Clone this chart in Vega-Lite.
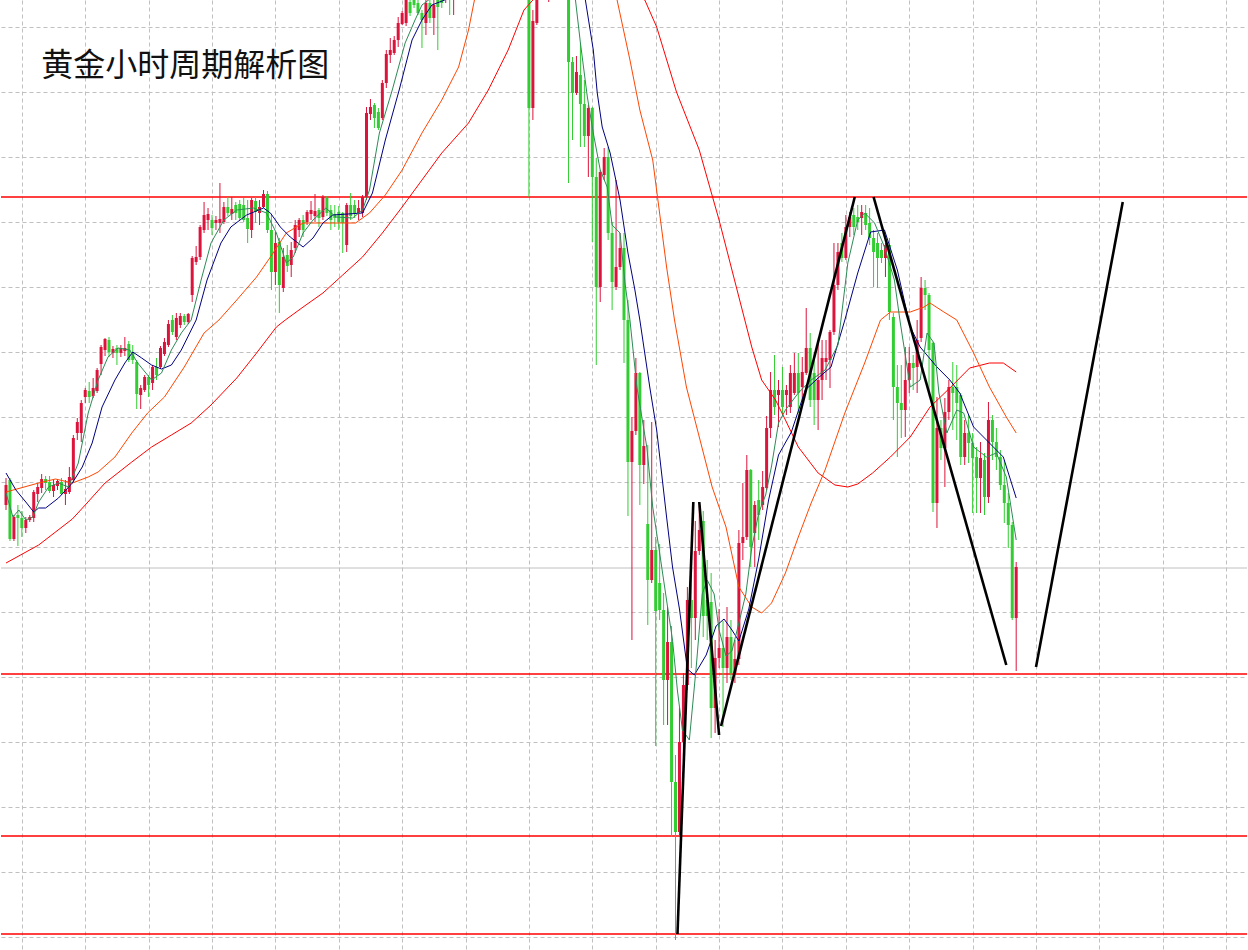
{
"$schema":"https://vega.github.io/schema/vega-lite/v6.json",
"width":1248,"height":950,"padding":0,
"autosize":{"type":"fit","contains":"padding"},
"background":"white",
"config":{"view":{"stroke":null},"axis":{"labels":false,"ticks":false,"domain":false,"title":null,"grid":true,"gridColor":"#c0c0c0","gridDash":[4,3],"gridWidth":1}},
"datasets":{
"candles":[
{"i":0,"o":2349.5,"h":2352.2,"l":2349.0,"c":2351.5},
{"i":1,"o":2352.0,"h":2352.2,"l":2345.9,"c":2346.1},
{"i":2,"o":2346.1,"h":2348.5,"l":2345.9,"c":2348.3},
{"i":3,"o":2348.5,"h":2349.5,"l":2345.4,"c":2348.2},
{"i":4,"o":2348.2,"h":2348.9,"l":2346.3,"c":2347.2},
{"i":5,"o":2347.2,"h":2348.3,"l":2346.7,"c":2348.0},
{"i":6,"o":2348.0,"h":2348.5,"l":2347.8,"c":2348.3},
{"i":7,"o":2348.2,"h":2351.0,"l":2347.8,"c":2350.8},
{"i":8,"o":2350.6,"h":2351.7,"l":2349.8,"c":2351.3},
{"i":9,"o":2351.2,"h":2352.6,"l":2350.7,"c":2352.1},
{"i":10,"o":2352.1,"h":2352.4,"l":2351.0,"c":2351.7},
{"i":11,"o":2351.8,"h":2352.4,"l":2350.7,"c":2350.9},
{"i":12,"o":2350.9,"h":2352.0,"l":2350.3,"c":2351.5},
{"i":13,"o":2351.4,"h":2352.1,"l":2351.0,"c":2351.9},
{"i":14,"o":2351.8,"h":2352.2,"l":2350.5,"c":2350.6},
{"i":15,"o":2350.6,"h":2352.0,"l":2349.5,"c":2351.1},
{"i":16,"o":2350.8,"h":2353.3,"l":2350.6,"c":2352.3},
{"i":17,"o":2352.0,"h":2356.5,"l":2351.7,"c":2356.2},
{"i":18,"o":2356.7,"h":2358.2,"l":2356.0,"c":2357.8},
{"i":19,"o":2356.7,"h":2360.0,"l":2355.8,"c":2359.7},
{"i":20,"o":2360.3,"h":2361.2,"l":2359.7,"c":2361.0},
{"i":21,"o":2360.9,"h":2361.8,"l":2359.7,"c":2360.3},
{"i":22,"o":2360.4,"h":2362.2,"l":2360.2,"c":2361.2},
{"i":23,"o":2360.9,"h":2363.2,"l":2360.7,"c":2363.0},
{"i":24,"o":2363.6,"h":2365.5,"l":2362.5,"c":2365.3},
{"i":25,"o":2365.0,"h":2366.2,"l":2364.4,"c":2366.1},
{"i":26,"o":2366.0,"h":2366.3,"l":2364.3,"c":2364.8},
{"i":27,"o":2364.7,"h":2365.4,"l":2364.2,"c":2365.1},
{"i":28,"o":2365.2,"h":2365.5,"l":2363.5,"c":2364.7},
{"i":29,"o":2364.7,"h":2365.5,"l":2364.3,"c":2365.2},
{"i":30,"o":2364.9,"h":2366.3,"l":2364.4,"c":2365.2},
{"i":31,"o":2365.6,"h":2365.9,"l":2363.8,"c":2364.0},
{"i":32,"o":2364.8,"h":2365.5,"l":2363.6,"c":2364.0},
{"i":33,"o":2363.8,"h":2364.0,"l":2359.1,"c":2360.6},
{"i":34,"o":2360.5,"h":2361.5,"l":2359.1,"c":2361.2},
{"i":35,"o":2361.0,"h":2362.5,"l":2360.8,"c":2362.3},
{"i":36,"o":2362.3,"h":2362.5,"l":2360.3,"c":2361.5},
{"i":37,"o":2361.7,"h":2363.5,"l":2361.0,"c":2363.3},
{"i":38,"o":2363.3,"h":2364.2,"l":2362.0,"c":2362.5},
{"i":39,"o":2363.3,"h":2365.4,"l":2363.1,"c":2365.2},
{"i":40,"o":2364.6,"h":2366.2,"l":2364.4,"c":2365.8},
{"i":41,"o":2365.5,"h":2368.0,"l":2365.3,"c":2367.6},
{"i":42,"o":2368.0,"h":2368.5,"l":2366.5,"c":2366.8},
{"i":43,"o":2366.3,"h":2368.7,"l":2366.0,"c":2368.2},
{"i":44,"o":2367.5,"h":2368.7,"l":2367.2,"c":2368.4},
{"i":45,"o":2368.4,"h":2368.6,"l":2367.5,"c":2367.8},
{"i":46,"o":2367.8,"h":2368.7,"l":2367.6,"c":2368.6},
{"i":47,"o":2370.5,"h":2374.4,"l":2369.8,"c":2374.2},
{"i":48,"o":2373.8,"h":2375.4,"l":2373.5,"c":2374.3},
{"i":49,"o":2374.3,"h":2377.5,"l":2374.0,"c":2377.3},
{"i":50,"o":2377.0,"h":2379.8,"l":2376.7,"c":2378.5},
{"i":51,"o":2378.0,"h":2379.2,"l":2377.0,"c":2378.6},
{"i":52,"o":2378.0,"h":2378.5,"l":2376.5,"c":2377.2},
{"i":53,"o":2377.7,"h":2378.4,"l":2377.0,"c":2378.0},
{"i":54,"o":2377.7,"h":2381.7,"l":2376.7,"c":2378.1},
{"i":55,"o":2377.8,"h":2379.8,"l":2377.6,"c":2379.3},
{"i":56,"o":2379.3,"h":2380.3,"l":2378.4,"c":2378.7},
{"i":57,"o":2378.6,"h":2380.3,"l":2378.0,"c":2379.1},
{"i":58,"o":2379.5,"h":2379.8,"l":2378.0,"c":2378.7},
{"i":59,"o":2379.6,"h":2380.0,"l":2378.0,"c":2378.2},
{"i":60,"o":2379.5,"h":2380.2,"l":2377.8,"c":2378.0},
{"i":61,"o":2378.2,"h":2380.0,"l":2375.7,"c":2377.1},
{"i":62,"o":2377.0,"h":2380.2,"l":2376.2,"c":2380.0},
{"i":63,"o":2379.9,"h":2380.3,"l":2377.7,"c":2378.8},
{"i":64,"o":2378.7,"h":2380.0,"l":2377.5,"c":2379.3},
{"i":65,"o":2379.3,"h":2381.0,"l":2379.2,"c":2380.6},
{"i":66,"o":2380.6,"h":2380.9,"l":2376.7,"c":2377.0},
{"i":67,"o":2377.0,"h":2378.5,"l":2371.0,"c":2372.8},
{"i":68,"o":2372.8,"h":2376.8,"l":2371.5,"c":2375.7},
{"i":69,"o":2375.8,"h":2376.2,"l":2368.7,"c":2371.5},
{"i":70,"o":2371.2,"h":2375.2,"l":2370.8,"c":2374.3},
{"i":71,"o":2374.5,"h":2375.5,"l":2372.8,"c":2373.4},
{"i":72,"o":2373.5,"h":2375.8,"l":2372.3,"c":2375.0},
{"i":73,"o":2375.2,"h":2378.0,"l":2374.7,"c":2377.5},
{"i":74,"o":2377.0,"h":2378.2,"l":2376.3,"c":2378.0},
{"i":75,"o":2378.0,"h":2378.5,"l":2376.3,"c":2377.0},
{"i":76,"o":2377.8,"h":2379.0,"l":2377.5,"c":2378.8},
{"i":77,"o":2378.6,"h":2379.9,"l":2378.0,"c":2379.0},
{"i":78,"o":2378.4,"h":2380.6,"l":2377.8,"c":2378.9},
{"i":79,"o":2379.0,"h":2379.2,"l":2377.3,"c":2378.2},
{"i":80,"o":2378.3,"h":2380.5,"l":2378.0,"c":2380.3},
{"i":81,"o":2380.2,"h":2380.4,"l":2378.4,"c":2378.7},
{"i":82,"o":2379.0,"h":2379.5,"l":2377.0,"c":2378.0},
{"i":83,"o":2378.6,"h":2379.5,"l":2377.3,"c":2378.2},
{"i":84,"o":2378.8,"h":2379.4,"l":2377.0,"c":2377.8},
{"i":85,"o":2378.7,"h":2378.8,"l":2374.7,"c":2377.7},
{"i":86,"o":2375.5,"h":2379.7,"l":2374.8,"c":2379.5},
{"i":87,"o":2379.5,"h":2380.7,"l":2378.0,"c":2378.4},
{"i":88,"o":2379.5,"h":2380.0,"l":2378.2,"c":2378.7},
{"i":89,"o":2378.7,"h":2380.0,"l":2378.0,"c":2379.2},
{"i":90,"o":2378.7,"h":2380.5,"l":2378.3,"c":2380.3},
{"i":91,"o":2380.3,"h":2389.3,"l":2380.0,"c":2388.7},
{"i":92,"o":2388.6,"h":2390.1,"l":2388.0,"c":2389.3},
{"i":93,"o":2389.5,"h":2389.7,"l":2387.2,"c":2388.2},
{"i":94,"o":2388.8,"h":2389.2,"l":2387.0,"c":2387.2},
{"i":95,"o":2388.2,"h":2392.0,"l":2388.0,"c":2391.7},
{"i":96,"o":2391.7,"h":2395.0,"l":2391.2,"c":2394.6},
{"i":97,"o":2394.5,"h":2396.2,"l":2393.7,"c":2395.0},
{"i":98,"o":2394.7,"h":2396.4,"l":2394.5,"c":2396.0},
{"i":99,"o":2396.0,"h":2398.3,"l":2395.3,"c":2397.7},
{"i":100,"o":2397.6,"h":2398.9,"l":2397.5,"c":2398.7},
{"i":101,"o":2397.7,"h":2400.8,"l":2397.4,"c":2400.2},
{"i":102,"o":2399.8,"h":2400.5,"l":2398.4,"c":2398.7},
{"i":103,"o":2400.5,"h":2401.0,"l":2399.2,"c":2399.5},
{"i":104,"o":2399.7,"h":2400.3,"l":2398.5,"c":2398.7},
{"i":105,"o":2398.7,"h":2399.0,"l":2395.2,"c":2398.0},
{"i":106,"o":2397.7,"h":2400.0,"l":2396.5,"c":2399.7},
{"i":107,"o":2399.7,"h":2400.3,"l":2397.7,"c":2398.2},
{"i":108,"o":2398.2,"h":2400.3,"l":2396.5,"c":2399.5},
{"i":109,"o":2400.3,"h":2400.8,"l":2395.0,"c":2399.3},
{"i":110,"o":2400.6,"h":2401.2,"l":2399.2,"c":2399.7},
{"i":111,"o":2400.0,"h":2401.5,"l":2399.7,"c":2401.0},
{"i":112,"o":2401.0,"h":2401.5,"l":2398.5,"c":2400.2},
{"i":113,"o":2400.0,"h":2401.5,"l":2398.5,"c":2401.0},
{"i":114,"o":2401.0,"h":2403.0,"l":2400.5,"c":2402.5},
{"i":115,"o":2402.5,"h":2404.0,"l":2401.8,"c":2403.5},
{"i":116,"o":2403.5,"h":2405.0,"l":2403.0,"c":2404.5},
{"i":117,"o":2404.5,"h":2405.5,"l":2403.5,"c":2404.0},
{"i":118,"o":2404.0,"h":2406.0,"l":2403.5,"c":2405.5},
{"i":119,"o":2405.5,"h":2407.0,"l":2405.0,"c":2406.5},
{"i":120,"o":2406.5,"h":2407.5,"l":2405.5,"c":2406.0},
{"i":121,"o":2406.0,"h":2408.0,"l":2405.5,"c":2407.5},
{"i":122,"o":2407.5,"h":2408.5,"l":2406.5,"c":2407.0},
{"i":123,"o":2407.0,"h":2409.0,"l":2406.5,"c":2408.5},
{"i":124,"o":2408.5,"h":2409.5,"l":2407.5,"c":2408.0},
{"i":125,"o":2408.0,"h":2409.0,"l":2407.0,"c":2407.5},
{"i":126,"o":2407.5,"h":2408.5,"l":2406.0,"c":2406.5},
{"i":127,"o":2406.5,"h":2408.0,"l":2405.5,"c":2407.0},
{"i":128,"o":2407.0,"h":2408.0,"l":2405.5,"c":2406.0},
{"i":129,"o":2406.0,"h":2407.0,"l":2404.5,"c":2405.0},
{"i":130,"o":2405.0,"h":2406.5,"l":2404.0,"c":2405.5},
{"i":131,"o":2405.5,"h":2406.5,"l":2402.5,"c":2403.0},
{"i":132,"o":2403.0,"h":2403.5,"l":2380.3,"c":2389.2},
{"i":133,"o":2389.2,"h":2399.0,"l":2388.0,"c":2397.9},
{"i":134,"o":2397.7,"h":2401.2,"l":2397.5,"c":2400.5},
{"i":135,"o":2400.5,"h":2403.0,"l":2400.2,"c":2402.0},
{"i":136,"o":2402.0,"h":2402.5,"l":2400.3,"c":2400.8},
{"i":137,"o":2400.5,"h":2402.0,"l":2399.8,"c":2401.5},
{"i":138,"o":2401.5,"h":2402.5,"l":2400.2,"c":2400.5},
{"i":139,"o":2400.5,"h":2402.0,"l":2400.3,"c":2401.2},
{"i":140,"o":2401.2,"h":2401.8,"l":2400.1,"c":2400.3},
{"i":141,"o":2401.5,"h":2402.0,"l":2400.2,"c":2400.5},
{"i":142,"o":2400.5,"h":2400.8,"l":2381.7,"c":2393.8},
{"i":143,"o":2393.8,"h":2394.3,"l":2386.0,"c":2390.7},
{"i":144,"o":2390.7,"h":2394.4,"l":2390.5,"c":2392.8},
{"i":145,"o":2392.5,"h":2395.7,"l":2385.3,"c":2389.6},
{"i":146,"o":2389.6,"h":2392.0,"l":2385.3,"c":2386.4},
{"i":147,"o":2386.4,"h":2389.5,"l":2382.3,"c":2389.2},
{"i":148,"o":2389.2,"h":2389.3,"l":2375.8,"c":2382.3},
{"i":149,"o":2382.3,"h":2384.2,"l":2363.5,"c":2371.3},
{"i":150,"o":2371.3,"h":2383.0,"l":2369.8,"c":2382.8},
{"i":151,"o":2382.5,"h":2385.2,"l":2382.0,"c":2384.3},
{"i":152,"o":2384.3,"h":2385.3,"l":2376.0,"c":2376.7},
{"i":153,"o":2376.7,"h":2377.8,"l":2369.0,"c":2371.8},
{"i":154,"o":2371.3,"h":2382.0,"l":2371.0,"c":2373.3},
{"i":155,"o":2373.3,"h":2376.7,"l":2373.0,"c":2375.2},
{"i":156,"o":2375.2,"h":2376.7,"l":2363.7,"c":2368.0},
{"i":157,"o":2368.0,"h":2370.0,"l":2348.4,"c":2353.8},
{"i":158,"o":2353.8,"h":2358.3,"l":2336.0,"c":2356.9},
{"i":159,"o":2356.9,"h":2364.2,"l":2356.5,"c":2362.7},
{"i":160,"o":2362.7,"h":2362.8,"l":2349.5,"c":2353.5},
{"i":161,"o":2353.5,"h":2358.0,"l":2351.6,"c":2355.4},
{"i":162,"o":2347.6,"h":2355.5,"l":2337.5,"c":2342.0},
{"i":163,"o":2342.0,"h":2357.8,"l":2341.7,"c":2345.0},
{"i":164,"o":2345.0,"h":2346.3,"l":2325.4,"c":2338.9},
{"i":165,"o":2341.7,"h":2345.6,"l":2338.0,"c":2339.0},
{"i":166,"o":2339.0,"h":2340.7,"l":2327.5,"c":2332.0},
{"i":167,"o":2332.0,"h":2339.3,"l":2327.5,"c":2335.8},
{"i":168,"o":2335.8,"h":2337.4,"l":2316.3,"c":2321.8},
{"i":169,"o":2321.8,"h":2324.5,"l":2306.0,"c":2316.8},
{"i":170,"o":2316.8,"h":2329.2,"l":2316.5,"c":2325.8},
{"i":171,"o":2325.8,"h":2332.7,"l":2324.0,"c":2331.5},
{"i":172,"o":2331.5,"h":2341.3,"l":2331.0,"c":2340.0},
{"i":173,"o":2340.0,"h":2342.5,"l":2333.2,"c":2338.2},
{"i":174,"o":2338.2,"h":2347.9,"l":2336.0,"c":2344.9},
{"i":175,"o":2344.9,"h":2349.8,"l":2344.5,"c":2347.0},
{"i":176,"o":2347.9,"h":2348.9,"l":2336.3,"c":2338.4},
{"i":177,"o":2340.0,"h":2344.0,"l":2336.0,"c":2338.4},
{"i":178,"o":2339.8,"h":2342.7,"l":2326.2,"c":2329.2},
{"i":179,"o":2329.2,"h":2336.0,"l":2326.7,"c":2334.2},
{"i":180,"o":2334.2,"h":2339.1,"l":2333.2,"c":2335.2},
{"i":181,"o":2335.2,"h":2337.9,"l":2327.3,"c":2333.2},
{"i":182,"o":2333.2,"h":2339.3,"l":2331.7,"c":2336.3},
{"i":183,"o":2336.3,"h":2338.0,"l":2332.0,"c":2332.7},
{"i":184,"o":2332.7,"h":2336.0,"l":2331.7,"c":2334.1},
{"i":185,"o":2334.1,"h":2347.0,"l":2333.5,"c":2345.7},
{"i":186,"o":2345.7,"h":2351.7,"l":2344.0,"c":2346.3},
{"i":187,"o":2346.3,"h":2354.5,"l":2346.0,"c":2353.0},
{"i":188,"o":2353.0,"h":2353.1,"l":2343.3,"c":2345.3},
{"i":189,"o":2346.7,"h":2349.9,"l":2343.3,"c":2349.5},
{"i":190,"o":2350.0,"h":2352.0,"l":2346.0,"c":2348.5},
{"i":191,"o":2349.5,"h":2352.9,"l":2349.0,"c":2351.3},
{"i":192,"o":2351.2,"h":2358.4,"l":2351.0,"c":2357.2},
{"i":193,"o":2357.2,"h":2362.8,"l":2356.2,"c":2361.0},
{"i":194,"o":2361.0,"h":2364.5,"l":2358.5,"c":2359.3},
{"i":195,"o":2360.5,"h":2362.0,"l":2357.3,"c":2361.0},
{"i":196,"o":2361.0,"h":2363.3,"l":2358.5,"c":2359.3},
{"i":197,"o":2360.5,"h":2361.5,"l":2358.5,"c":2361.0},
{"i":198,"o":2359.3,"h":2363.5,"l":2358.7,"c":2362.7},
{"i":199,"o":2360.7,"h":2364.7,"l":2360.5,"c":2362.7},
{"i":200,"o":2362.7,"h":2364.7,"l":2358.7,"c":2360.7},
{"i":201,"o":2361.3,"h":2364.3,"l":2360.0,"c":2362.8},
{"i":202,"o":2362.7,"h":2369.2,"l":2362.5,"c":2365.2},
{"i":203,"o":2365.2,"h":2366.7,"l":2359.3,"c":2360.0},
{"i":204,"o":2362.7,"h":2364.8,"l":2357.5,"c":2360.0},
{"i":205,"o":2360.0,"h":2365.7,"l":2357.0,"c":2362.0},
{"i":206,"o":2362.0,"h":2366.0,"l":2360.0,"c":2364.2},
{"i":207,"o":2363.8,"h":2366.0,"l":2362.0,"c":2364.2},
{"i":208,"o":2364.0,"h":2367.0,"l":2361.2,"c":2366.8},
{"i":209,"o":2366.8,"h":2375.7,"l":2366.5,"c":2371.5},
{"i":210,"o":2371.5,"h":2375.7,"l":2371.0,"c":2374.8},
{"i":211,"o":2375.7,"h":2376.7,"l":2373.8,"c":2374.2},
{"i":212,"o":2374.2,"h":2378.5,"l":2374.0,"c":2377.3},
{"i":213,"o":2377.3,"h":2378.8,"l":2376.3,"c":2378.3},
{"i":214,"o":2378.5,"h":2379.2,"l":2376.5,"c":2377.3},
{"i":215,"o":2378.3,"h":2379.5,"l":2377.0,"c":2377.8},
{"i":216,"o":2378.2,"h":2379.5,"l":2376.5,"c":2378.8},
{"i":217,"o":2378.7,"h":2379.5,"l":2377.0,"c":2377.5},
{"i":218,"o":2377.7,"h":2379.2,"l":2375.5,"c":2376.2},
{"i":219,"o":2376.2,"h":2377.0,"l":2371.3,"c":2374.8},
{"i":220,"o":2375.7,"h":2376.7,"l":2371.2,"c":2374.2},
{"i":221,"o":2375.0,"h":2375.7,"l":2373.7,"c":2374.2},
{"i":222,"o":2374.2,"h":2375.7,"l":2372.3,"c":2375.5},
{"i":223,"o":2375.5,"h":2376.2,"l":2368.0,"c":2368.8},
{"i":224,"o":2368.3,"h":2368.7,"l":2358.0,"c":2361.3},
{"i":225,"o":2361.3,"h":2363.5,"l":2354.3,"c":2359.7},
{"i":226,"o":2359.7,"h":2363.5,"l":2356.2,"c":2359.0},
{"i":227,"o":2359.0,"h":2365.3,"l":2356.3,"c":2362.0},
{"i":228,"o":2362.0,"h":2365.3,"l":2360.7,"c":2363.7},
{"i":229,"o":2363.7,"h":2364.5,"l":2361.0,"c":2363.2},
{"i":230,"o":2363.3,"h":2368.0,"l":2360.7,"c":2366.0},
{"i":231,"o":2366.2,"h":2372.3,"l":2365.8,"c":2371.2},
{"i":232,"o":2371.2,"h":2372.0,"l":2369.0,"c":2370.5},
{"i":233,"o":2370.5,"h":2370.7,"l":2360.7,"c":2365.0},
{"i":234,"o":2365.7,"h":2365.8,"l":2348.8,"c":2349.7},
{"i":235,"o":2349.7,"h":2360.3,"l":2347.2,"c":2357.2},
{"i":236,"o":2357.2,"h":2358.0,"l":2354.0,"c":2355.2},
{"i":237,"o":2355.2,"h":2360.2,"l":2351.3,"c":2358.8},
{"i":238,"o":2358.8,"h":2362.0,"l":2358.0,"c":2361.3},
{"i":239,"o":2361.3,"h":2363.8,"l":2357.0,"c":2360.7},
{"i":240,"o":2361.3,"h":2363.5,"l":2356.0,"c":2359.7},
{"i":241,"o":2360.5,"h":2360.7,"l":2353.5,"c":2354.3},
{"i":242,"o":2354.3,"h":2358.0,"l":2353.5,"c":2356.7},
{"i":243,"o":2356.7,"h":2358.5,"l":2353.7,"c":2355.7},
{"i":244,"o":2355.7,"h":2356.7,"l":2348.7,"c":2354.2},
{"i":245,"o":2354.3,"h":2355.3,"l":2348.7,"c":2352.2},
{"i":246,"o":2352.2,"h":2355.8,"l":2348.7,"c":2354.2},
{"i":247,"o":2354.0,"h":2354.7,"l":2348.5,"c":2350.3},
{"i":248,"o":2350.3,"h":2359.8,"l":2349.7,"c":2358.0},
{"i":249,"o":2358.0,"h":2358.5,"l":2354.0,"c":2355.8},
{"i":250,"o":2355.8,"h":2357.2,"l":2353.0,"c":2354.3},
{"i":251,"o":2354.3,"h":2355.0,"l":2351.0,"c":2351.5},
{"i":252,"o":2351.5,"h":2354.0,"l":2347.7,"c":2349.7},
{"i":253,"o":2349.7,"h":2350.7,"l":2345.2,"c":2347.5},
{"i":254,"o":2347.5,"h":2347.8,"l":2338.0,"c":2338.2},
{"i":255,"o":2338.2,"h":2343.8,"l":2332.9,"c":2343.3}
],
"ma":[
{"m":"MA60","i":0,"p":2343.7},{"m":"MA60","i":8.25,"p":2345.5},{"m":"MA60","i":16.75,"p":2348.1},{"m":"MA60","i":20,"p":2349.5},{"m":"MA60","i":25,"p":2351.7},{"m":"MA60","i":31.75,"p":2353.8},{"m":"MA60","i":36.75,"p":2355.3},{"m":"MA60","i":41.75,"p":2356.5},{"m":"MA60","i":46.75,"p":2357.7},{"m":"MA60","i":51.75,"p":2359.5},{"m":"MA60","i":58.25,"p":2362.2},{"m":"MA60","i":63.25,"p":2364.7},{"m":"MA60","i":68.25,"p":2367.3},{"m":"MA60","i":70.5,"p":2368.0},{"m":"MA60","i":75,"p":2369.3},{"m":"MA60","i":80,"p":2370.7},{"m":"MA60","i":85,"p":2372.5},{"m":"MA60","i":90,"p":2374.3},{"m":"MA60","i":95,"p":2376.7},{"m":"MA60","i":100,"p":2379.3},{"m":"MA60","i":105,"p":2382.0},{"m":"MA60","i":110,"p":2384.7},{"m":"MA60","i":116.75,"p":2387.7},{"m":"MA60","i":121.75,"p":2391.0},{"m":"MA60","i":126.75,"p":2395.0},{"m":"MA60","i":130.75,"p":2399.0},{"m":"MA60","i":133,"p":2400.0},{"m":"MA60","i":140,"p":2402.0},{"m":"MA60","i":147.5,"p":2402.5},{"m":"MA60","i":155,"p":2401.5},{"m":"MA60","i":161.25,"p":2400.0},{"m":"MA60","i":164.25,"p":2397.3},{"m":"MA60","i":169.25,"p":2390.8},{"m":"MA60","i":175,"p":2385.0},{"m":"MA60","i":180,"p":2378.0},{"m":"MA60","i":185,"p":2370.3},{"m":"MA60","i":188.25,"p":2365.3},{"m":"MA60","i":190.75,"p":2362.0},{"m":"MA60","i":194.25,"p":2360.0},{"m":"MA60","i":196.75,"p":2358.0},{"m":"MA60","i":200,"p":2355.3},{"m":"MA60","i":205,"p":2352.7},{"m":"MA60","i":209.25,"p":2351.5},{"m":"MA60","i":212.5,"p":2351.3},{"m":"MA60","i":215,"p":2351.6},{"m":"MA60","i":218.75,"p":2352.7},{"m":"MA60","i":223.25,"p":2354.3},{"m":"MA60","i":228.25,"p":2356.3},{"m":"MA60","i":233.25,"p":2359.3},{"m":"MA60","i":238.25,"p":2361.2},{"m":"MA60","i":243.25,"p":2363.2},{"m":"MA60","i":248.25,"p":2363.7},{"m":"MA60","i":251.75,"p":2363.7},{"m":"MA60","i":255,"p":2362.8},
{"m":"MA30","i":0,"p":2350.8},{"m":"MA30","i":8.25,"p":2351.7},{"m":"MA30","i":12.5,"p":2352.1},{"m":"MA30","i":16.75,"p":2351.7},{"m":"MA30","i":20.75,"p":2352.3},{"m":"MA30","i":23.25,"p":2352.8},{"m":"MA30","i":27.5,"p":2354.3},{"m":"MA30","i":31.75,"p":2356.7},{"m":"MA30","i":35.75,"p":2358.7},{"m":"MA30","i":40,"p":2360.3},{"m":"MA30","i":45,"p":2363.3},{"m":"MA30","i":50,"p":2366.7},{"m":"MA30","i":53.75,"p":2368.0},{"m":"MA30","i":58.25,"p":2370.0},{"m":"MA30","i":63.25,"p":2372.3},{"m":"MA30","i":66.75,"p":2374.3},{"m":"MA30","i":70.75,"p":2376.7},{"m":"MA30","i":75,"p":2377.7},{"m":"MA30","i":83.25,"p":2377.7},{"m":"MA30","i":88.25,"p":2377.7},{"m":"MA30","i":91.75,"p":2378.7},{"m":"MA30","i":95.75,"p":2380.5},{"m":"MA30","i":100,"p":2383.0},{"m":"MA30","i":105,"p":2386.7},{"m":"MA30","i":110,"p":2390.0},{"m":"MA30","i":114.25,"p":2393.3},{"m":"MA30","i":116.75,"p":2397.0},{"m":"MA30","i":118.25,"p":2400.0},{"m":"MA30","i":125,"p":2404.0},{"m":"MA30","i":135,"p":2406.0},{"m":"MA30","i":145,"p":2404.0},{"m":"MA30","i":154.25,"p":2400.0},{"m":"MA30","i":157.5,"p":2394.0},{"m":"MA30","i":160,"p":2389.0},{"m":"MA30","i":163.25,"p":2384.0},{"m":"MA30","i":166.75,"p":2373.3},{"m":"MA30","i":168.75,"p":2368.0},{"m":"MA30","i":171.75,"p":2361.3},{"m":"MA30","i":175,"p":2356.3},{"m":"MA30","i":178.25,"p":2351.3},{"m":"MA30","i":181.75,"p":2347.3},{"m":"MA30","i":185,"p":2341.3},{"m":"MA30","i":188.25,"p":2339.3},{"m":"MA30","i":190.75,"p":2338.7},{"m":"MA30","i":193.25,"p":2339.7},{"m":"MA30","i":196.75,"p":2342.7},{"m":"MA30","i":200,"p":2346.3},{"m":"MA30","i":203.25,"p":2349.7},{"m":"MA30","i":206.75,"p":2353.0},{"m":"MA30","i":211.75,"p":2358.7},{"m":"MA30","i":216.75,"p":2363.7},{"m":"MA30","i":220.75,"p":2368.0},{"m":"MA30","i":223.25,"p":2368.8},{"m":"MA30","i":228.25,"p":2368.8},{"m":"MA30","i":231.75,"p":2369.3},{"m":"MA30","i":233.25,"p":2369.7},{"m":"MA30","i":236.75,"p":2368.8},{"m":"MA30","i":240,"p":2368.0},{"m":"MA30","i":244.25,"p":2364.7},{"m":"MA30","i":248.25,"p":2361.3},{"m":"MA30","i":252.5,"p":2358.3},{"m":"MA30","i":255,"p":2356.7},
{"m":"MA10","i":0,"p":2352.7},{"m":"MA10","i":2.5,"p":2351.0},{"m":"MA10","i":5,"p":2349.8},{"m":"MA10","i":7,"p":2348.8},{"m":"MA10","i":8.25,"p":2349.2},{"m":"MA10","i":10,"p":2349.2},{"m":"MA10","i":13.25,"p":2350.2},{"m":"MA10","i":16.75,"p":2351.7},{"m":"MA10","i":19.25,"p":2353.3},{"m":"MA10","i":21.75,"p":2355.7},{"m":"MA10","i":24.25,"p":2359.3},{"m":"MA10","i":27.5,"p":2362.0},{"m":"MA10","i":30,"p":2363.7},{"m":"MA10","i":32,"p":2364.8},{"m":"MA10","i":34.25,"p":2364.2},{"m":"MA10","i":36.75,"p":2363.5},{"m":"MA10","i":39.25,"p":2363.1},{"m":"MA10","i":41.75,"p":2363.5},{"m":"MA10","i":44.25,"p":2365.0},{"m":"MA10","i":46.75,"p":2367.0},{"m":"MA10","i":48,"p":2368.0},{"m":"MA10","i":50.75,"p":2372.0},{"m":"MA10","i":54.25,"p":2375.7},{"m":"MA10","i":56.75,"p":2377.3},{"m":"MA10","i":60.75,"p":2378.5},{"m":"MA10","i":65,"p":2379.2},{"m":"MA10","i":66.75,"p":2378.7},{"m":"MA10","i":69.25,"p":2377.3},{"m":"MA10","i":71.75,"p":2376.3},{"m":"MA10","i":75,"p":2375.3},{"m":"MA10","i":77.5,"p":2376.2},{"m":"MA10","i":80,"p":2377.7},{"m":"MA10","i":82.5,"p":2378.5},{"m":"MA10","i":90,"p":2378.7},{"m":"MA10","i":92.5,"p":2380.7},{"m":"MA10","i":95.75,"p":2386.0},{"m":"MA10","i":99.25,"p":2391.0},{"m":"MA10","i":102.5,"p":2396.0},{"m":"MA10","i":105,"p":2398.0},{"m":"MA10","i":107.5,"p":2399.5},{"m":"MA10","i":110.75,"p":2400.0},{"m":"MA10","i":117.5,"p":2402.0},{"m":"MA10","i":125,"p":2404.0},{"m":"MA10","i":135,"p":2405.0},{"m":"MA10","i":142.5,"p":2402.5},{"m":"MA10","i":146.25,"p":2400.0},{"m":"MA10","i":148.25,"p":2395.0},{"m":"MA10","i":149.25,"p":2390.7},{"m":"MA10","i":150.5,"p":2387.3},{"m":"MA10","i":152.5,"p":2384.7},{"m":"MA10","i":155,"p":2380.0},{"m":"MA10","i":157,"p":2374.7},{"m":"MA10","i":158.75,"p":2371.0},{"m":"MA10","i":160,"p":2368.0},{"m":"MA10","i":162.5,"p":2361.3},{"m":"MA10","i":164.25,"p":2357.0},{"m":"MA10","i":166.75,"p":2348.3},{"m":"MA10","i":168.25,"p":2343.3},{"m":"MA10","i":170,"p":2339.1},{"m":"MA10","i":172,"p":2333.1},{"m":"MA10","i":173.75,"p":2332.5},{"m":"MA10","i":176.75,"p":2334.5},{"m":"MA10","i":179.25,"p":2337.4},{"m":"MA10","i":181.25,"p":2338.1},{"m":"MA10","i":183.25,"p":2337.0},{"m":"MA10","i":185,"p":2335.9},{"m":"MA10","i":187.5,"p":2339.1},{"m":"MA10","i":190,"p":2344.1},{"m":"MA10","i":192.5,"p":2350.0},{"m":"MA10","i":195,"p":2354.5},{"m":"MA10","i":198.25,"p":2356.8},{"m":"MA10","i":201.75,"p":2361.0},{"m":"MA10","i":205,"p":2362.2},{"m":"MA10","i":208.25,"p":2363.3},{"m":"MA10","i":211.75,"p":2368.0},{"m":"MA10","i":215,"p":2372.7},{"m":"MA10","i":218.25,"p":2376.8},{"m":"MA10","i":221.75,"p":2377.0},{"m":"MA10","i":225,"p":2373.0},{"m":"MA10","i":228.25,"p":2367.3},{"m":"MA10","i":230.75,"p":2365.3},{"m":"MA10","i":235,"p":2363.3},{"m":"MA10","i":238.25,"p":2362.0},{"m":"MA10","i":240.75,"p":2360.7},{"m":"MA10","i":244.25,"p":2357.3},{"m":"MA10","i":248.25,"p":2355.7},{"m":"MA10","i":251.75,"p":2354.3},{"m":"MA10","i":255,"p":2350.2},
{"m":"MA5","i":0,"p":2350.7},{"m":"MA5","i":1.75,"p":2348.3},{"m":"MA5","i":3.25,"p":2349.0},{"m":"MA5","i":5,"p":2348.0},{"m":"MA5","i":6.75,"p":2348.3},{"m":"MA5","i":8.25,"p":2349.8},{"m":"MA5","i":10.75,"p":2351.3},{"m":"MA5","i":13.25,"p":2351.7},{"m":"MA5","i":15.75,"p":2351.3},{"m":"MA5","i":18.25,"p":2353.7},{"m":"MA5","i":20.75,"p":2358.7},{"m":"MA5","i":23.25,"p":2362.0},{"m":"MA5","i":25.75,"p":2364.3},{"m":"MA5","i":28.25,"p":2365.2},{"m":"MA5","i":31.25,"p":2365.0},{"m":"MA5","i":33.25,"p":2363.7},{"m":"MA5","i":36.75,"p":2362.0},{"m":"MA5","i":39.25,"p":2362.7},{"m":"MA5","i":41.75,"p":2365.0},{"m":"MA5","i":44.25,"p":2366.7},{"m":"MA5","i":46.75,"p":2368.0},{"m":"MA5","i":49.25,"p":2372.0},{"m":"MA5","i":51.75,"p":2375.7},{"m":"MA5","i":55,"p":2378.0},{"m":"MA5","i":58.25,"p":2379.0},{"m":"MA5","i":62.5,"p":2379.2},{"m":"MA5","i":65.75,"p":2378.7},{"m":"MA5","i":68.25,"p":2376.7},{"m":"MA5","i":70.75,"p":2373.7},{"m":"MA5","i":72.5,"p":2374.3},{"m":"MA5","i":75,"p":2376.7},{"m":"MA5","i":77.5,"p":2378.0},{"m":"MA5","i":80.75,"p":2379.2},{"m":"MA5","i":83.25,"p":2378.3},{"m":"MA5","i":87.5,"p":2378.2},{"m":"MA5","i":90,"p":2379.0},{"m":"MA5","i":91.75,"p":2381.0},{"m":"MA5","i":94.25,"p":2386.7},{"m":"MA5","i":97.5,"p":2391.0},{"m":"MA5","i":100.75,"p":2395.7},{"m":"MA5","i":103.25,"p":2398.0},{"m":"MA5","i":105,"p":2399.5},{"m":"MA5","i":110,"p":2401.0},{"m":"MA5","i":115,"p":2403.0},{"m":"MA5","i":125,"p":2405.0},{"m":"MA5","i":132.5,"p":2402.0},{"m":"MA5","i":135,"p":2402.0},{"m":"MA5","i":140,"p":2401.5},{"m":"MA5","i":143.75,"p":2400.0},{"m":"MA5","i":145,"p":2395.7},{"m":"MA5","i":146.75,"p":2390.3},{"m":"MA5","i":148.25,"p":2386.7},{"m":"MA5","i":150,"p":2383.0},{"m":"MA5","i":151.75,"p":2381.3},{"m":"MA5","i":153,"p":2377.5},{"m":"MA5","i":155,"p":2376.7},{"m":"MA5","i":156.25,"p":2371.7},{"m":"MA5","i":157.5,"p":2368.0},{"m":"MA5","i":159.25,"p":2361.3},{"m":"MA5","i":161.75,"p":2355.3},{"m":"MA5","i":163.25,"p":2349.3},{"m":"MA5","i":165,"p":2344.7},{"m":"MA5","i":167,"p":2339.3},{"m":"MA5","i":168.25,"p":2336.0},{"m":"MA5","i":169.5,"p":2330.9},{"m":"MA5","i":170.75,"p":2327.0},{"m":"MA5","i":172.5,"p":2326.0},{"m":"MA5","i":174.25,"p":2333.4},{"m":"MA5","i":175.75,"p":2340.6},{"m":"MA5","i":177,"p":2342.0},{"m":"MA5","i":178.75,"p":2340.6},{"m":"MA5","i":180,"p":2337.0},{"m":"MA5","i":181.75,"p":2334.4},{"m":"MA5","i":183.25,"p":2334.9},{"m":"MA5","i":185,"p":2337.7},{"m":"MA5","i":186.75,"p":2340.6},{"m":"MA5","i":188.25,"p":2345.2},{"m":"MA5","i":190,"p":2348.7},{"m":"MA5","i":191.75,"p":2350.5},{"m":"MA5","i":193.25,"p":2353.4},{"m":"MA5","i":195,"p":2357.7},{"m":"MA5","i":196.75,"p":2359.0},{"m":"MA5","i":200,"p":2360.7},{"m":"MA5","i":203.25,"p":2362.0},{"m":"MA5","i":206.75,"p":2363.0},{"m":"MA5","i":210,"p":2365.5},{"m":"MA5","i":212.5,"p":2373.7},{"m":"MA5","i":215,"p":2378.0},{"m":"MA5","i":216.75,"p":2378.7},{"m":"MA5","i":219.25,"p":2377.7},{"m":"MA5","i":221.75,"p":2375.3},{"m":"MA5","i":224.25,"p":2372.0},{"m":"MA5","i":225.75,"p":2367.7},{"m":"MA5","i":228.25,"p":2361.3},{"m":"MA5","i":230.75,"p":2362.0},{"m":"MA5","i":232.5,"p":2366.7},{"m":"MA5","i":234.25,"p":2365.7},{"m":"MA5","i":235.5,"p":2360.7},{"m":"MA5","i":237.5,"p":2356.7},{"m":"MA5","i":240,"p":2359.0},{"m":"MA5","i":241.75,"p":2358.7},{"m":"MA5","i":244.25,"p":2355.3},{"m":"MA5","i":247.5,"p":2354.3},{"m":"MA5","i":250,"p":2354.7},{"m":"MA5","i":252.5,"p":2352.3},{"m":"MA5","i":255,"p":2346.0}
],
"trend":[
{"s":"A","i":169.5,"p":2306.6},{"s":"A","i":173.5,"p":2349.8},
{"s":"B","i":175,"p":2349.8},{"s":"B","i":180,"p":2326.5},
{"s":"C","i":180.5,"p":2327.4},{"s":"C","i":214.25,"p":2380.3},
{"s":"D","i":219,"p":2380.3},{"s":"D","i":252.5,"p":2333.5},
{"s":"E","i":260,"p":2333.3},{"s":"E","i":281.9,"p":2379.8}
],
"levels":[
{"p":2380.3},{"p":2332.6},{"p":2316.4},{"p":2306.6}
],
"bid":[{"p":2343.2}]
},
"encoding":{
"x":{"field":"i","type":"quantitative","scale":{"domain":[0,312],"nice":false,"zero":false},"axis":{"values":[4,20,36,52,68,84,100,116,132,148,164,180,196,212,228,244,260,276,292,308]}},
"y":{"field":"p","type":"quantitative","scale":{"domain":[2305,2400],"nice":false,"zero":false},"axis":{"values":[2306.3,2312.8,2319.3,2325.8,2332.3,2338.8,2345.3,2351.8,2358.3,2364.8,2371.3,2377.8,2384.3,2390.8,2397.3]}}
},
"layer":[
{"data":{"name":"bid"},"mark":{"type":"rule","strokeWidth":1,"color":"#c0c0c0"},"encoding":{"x":null}},
{"data":{"name":"levels"},"mark":{"type":"rule","strokeWidth":1.4,"color":"#ff0000"},"encoding":{"x":null}},
{"data":{"name":"candles"},"mark":{"type":"rule","strokeWidth":1,"clip":true},
 "encoding":{"y":{"field":"l","type":"quantitative"},"y2":{"field":"h"},
 "color":{"condition":{"test":"datum.c > datum.o","value":"#dc143c"},"value":"#32cd32"}}},
{"data":{"name":"candles"},"mark":{"type":"bar","width":3,"clip":true},
 "encoding":{"y":{"field":"o","type":"quantitative"},"y2":{"field":"c"},
 "color":{"condition":{"test":"datum.c > datum.o","value":"#dc143c"},"value":"#32cd32"}}},
{"data":{"name":"ma"},"mark":{"type":"line","strokeWidth":1,"clip":true},
 "encoding":{"color":{"field":"m","type":"nominal","scale":{"domain":["MA60","MA30","MA10","MA5"],"range":["#ff0000","#ff4500","#000080","#2e8b57"]},"legend":null},"order":{"field":"i","type":"quantitative"}}},
{"data":{"name":"trend"},"mark":{"type":"line","strokeWidth":2.6,"color":"#000000","strokeCap":"butt"},
 "encoding":{"detail":{"field":"s","type":"nominal"}}},
{"data":{"values":[{"label":"黄金小时周期解析图","i":8.9,"p":2393.4}]},
 "mark":{"type":"text","font":"Noto Sans CJK SC","fontSize":32,"align":"left","baseline":"middle","color":"#111111"},
 "encoding":{"text":{"field":"label"}}}
]
}
